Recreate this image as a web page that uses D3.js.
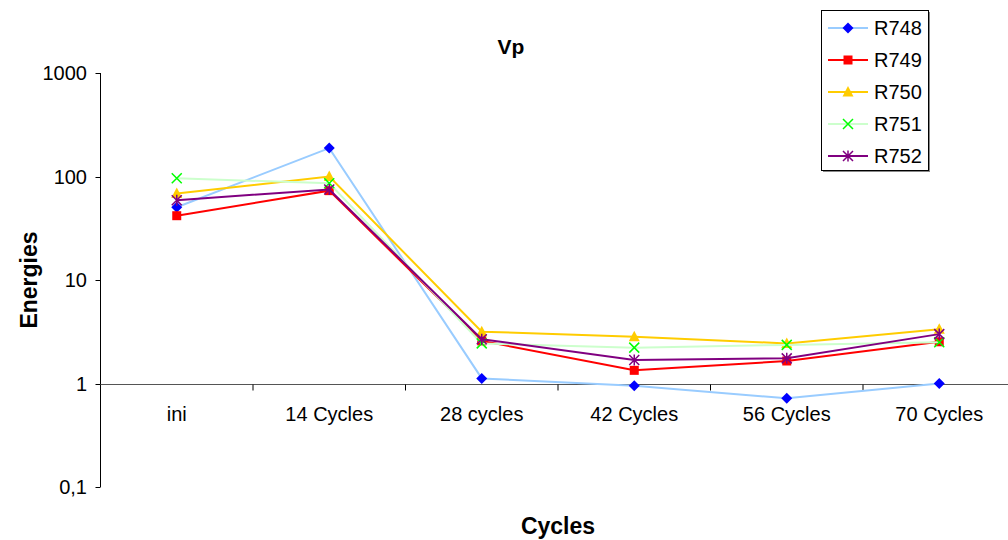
<!DOCTYPE html>
<html>
<head>
<meta charset="utf-8">
<script src="https://cdnjs.cloudflare.com/ajax/libs/d3/7.8.5/d3.min.js"></script>
<style>
	body { margin: 0; background: #fff; }
	text { font-family: "Liberation Sans", Arial, sans-serif; }
</style>
</head>
<body>
<div id="chart"></div>
<script>
// data
var categories = ['ini', '14 Cycles', '28 cycles', '42 Cycles', '56 Cycles', '70 Cycles'];
var seriesNames = ['R748', 'R749', 'R750', 'R751', 'R752'];
var R748 = [50.5, 188, 1.12, 0.95, 0.72, 1.0];
var R749 = [41.8, 73, 2.58, 1.34, 1.65, 2.53];
var R750 = [68.5, 100, 3.17, 2.83, 2.44, 3.34];
var R751 = [96, 86, 2.44, 2.22, 2.36, 2.5];
var R752 = [59, 75, 2.68, 1.69, 1.75, 3.0];
var yTicks = [0.1, 1, 10, 100, 1000];

var styles = {
	R748: { line: '#99ccff', mark: '#0000ff', shape: 'diamond' },
	R749: { line: '#ff0000', mark: '#ff0000', shape: 'square' },
	R750: { line: '#ffcc00', mark: '#ffcc00', shape: 'triangle' },
	R751: { line: '#ccffcc', mark: '#00ff00', shape: 'cross' },
	R752: { line: '#800080', mark: '#800080', shape: 'star' }
};
var values = { R748: R748, R749: R749, R750: R750, R751: R751, R752: R752 };

// build canvas
var width = 1008,
	height = 540;

var svg = d3.select('#chart')
			.append('svg')
			.attr('width', width)
			.attr('height', height);

var plotLeft = 100.5, plotRight = 1015.5, plotTop = 73, plotBottom = 487;

var x = d3.scaleBand()
		.domain(categories)
		.range([plotLeft, plotRight]);

var y = d3.scaleLog()
		.domain([0.1, 1000])
		.range([plotBottom, plotTop]);

// y axis
svg.append('line')
	.attr('x1', plotLeft).attr('x2', plotLeft)
	.attr('y1', plotTop).attr('y2', plotBottom)
	.attr('stroke', '#000');

svg.selectAll('.ytick')
	.data(yTicks).enter()
	.append('line')
	.attr('x1', plotLeft - 5).attr('x2', plotLeft)
	.attr('y1', d => Math.round(y(d)) + 0.5)
	.attr('y2', d => Math.round(y(d)) + 0.5)
	.attr('stroke', '#000');

svg.selectAll('.ylabel')
	.data(yTicks).enter()
	.append('text')
	.attr('x', 87)
	.attr('y', d => y(d) + 7)
	.attr('text-anchor', 'end')
	.style('font-size', '20px')
	.text(d => d < 1 ? '0,1' : d);

// x axis crosses at 1
var y1 = Math.round(y(1)) + 0.5;
svg.append('line')
	.attr('x1', plotLeft).attr('x2', width)
	.attr('y1', y1).attr('y2', y1)
	.attr('stroke', '#555')
	.attr('stroke-width', 1.2);

svg.selectAll('.xtick')
	.data(categories.slice(1)).enter()
	.append('line')
	.attr('x1', d => x(d)).attr('x2', d => x(d))
	.attr('y1', y1).attr('y2', y1 + 6)
	.attr('stroke', '#000');

svg.selectAll('.xlabel')
	.data(categories).enter()
	.append('text')
	.attr('x', d => x(d) + x.bandwidth() / 2)
	.attr('y', 421)
	.attr('text-anchor', 'middle')
	.style('font-size', '20px')
	.text(d => d);

// titles
svg.append('text')
	.attr('x', 511).attr('y', 54)
	.attr('text-anchor', 'middle')
	.style('font-size', '21px')
	.style('font-weight', 'bold')
	.text('Vp');

svg.append('text')
	.attr('x', 558).attr('y', 534)
	.attr('text-anchor', 'middle')
	.style('font-size', '23px')
	.style('font-weight', 'bold')
	.text('Cycles');

svg.append('text')
	.attr('transform', 'translate(37,280) rotate(-90)')
	.attr('text-anchor', 'middle')
	.style('font-size', '23px')
	.style('font-weight', 'bold')
	.text('Energies');

// marker drawing
function drawMarker(g, shape, color) {
	if (shape === 'diamond') {
		g.append('path').attr('d', 'M0,-5.5L5.5,0L0,5.5L-5.5,0Z').attr('fill', color);
	} else if (shape === 'square') {
		g.append('rect').attr('x', -4.5).attr('y', -4.5).attr('width', 9).attr('height', 9).attr('fill', color);
	} else if (shape === 'triangle') {
		g.append('path').attr('d', 'M0,-6L5.5,4.5L-5.5,4.5Z').attr('fill', color);
	} else if (shape === 'cross') {
		g.append('path').attr('d', 'M-5,-5L5,5M5,-5L-5,5').attr('stroke', color).attr('stroke-width', 1.5);
	} else if (shape === 'star') {
		g.append('path').attr('d', 'M-5,-5L5,5M5,-5L-5,5M0,-5.5L0,5.5').attr('stroke', color).attr('stroke-width', 1.5);
	}
}

var line = d3.line()
	.x((d, i) => x(categories[i]) + x.bandwidth() / 2)
	.y(d => y(d));

var layers = svg.append('g');

seriesNames.forEach(function(name) {
	var s = styles[name];
	var g = layers.append('g');
	g.append('path')
		.datum(values[name])
		.attr('d', line)
		.attr('fill', 'none')
		.attr('stroke', s.line)
		.attr('stroke-width', 2);
	g.selectAll('g.pt')
		.data(values[name]).enter()
		.append('g')
		.attr('transform', (d, i) => 'translate(' + (x(categories[i]) + x.bandwidth() / 2) + ',' + y(d) + ')')
		.each(function() { drawMarker(d3.select(this), s.shape, s.mark); });
});

// legend
var legend = svg.append('g');
legend.append('rect')
	.attr('x', 823).attr('y', 12)
	.attr('width', 107).attr('height', 160)
	.attr('fill', '#888');
legend.append('rect')
	.attr('x', 821.5).attr('y', 10.5)
	.attr('width', 107).attr('height', 160)
	.attr('fill', '#fff')
	.attr('stroke', '#000');

seriesNames.forEach(function(name, i) {
	var s = styles[name];
	var ly = 28 + i * 32;
	legend.append('line')
		.attr('x1', 828).attr('x2', 868)
		.attr('y1', ly).attr('y2', ly)
		.attr('stroke', s.line)
		.attr('stroke-width', 2);
	var m = legend.append('g').attr('transform', 'translate(848,' + ly + ')');
	drawMarker(m, s.shape, s.mark);
	legend.append('text')
		.attr('x', 874).attr('y', ly + 7)
		.style('font-size', '20px')
		.text(name);
});
</script>
</body>
</html>
